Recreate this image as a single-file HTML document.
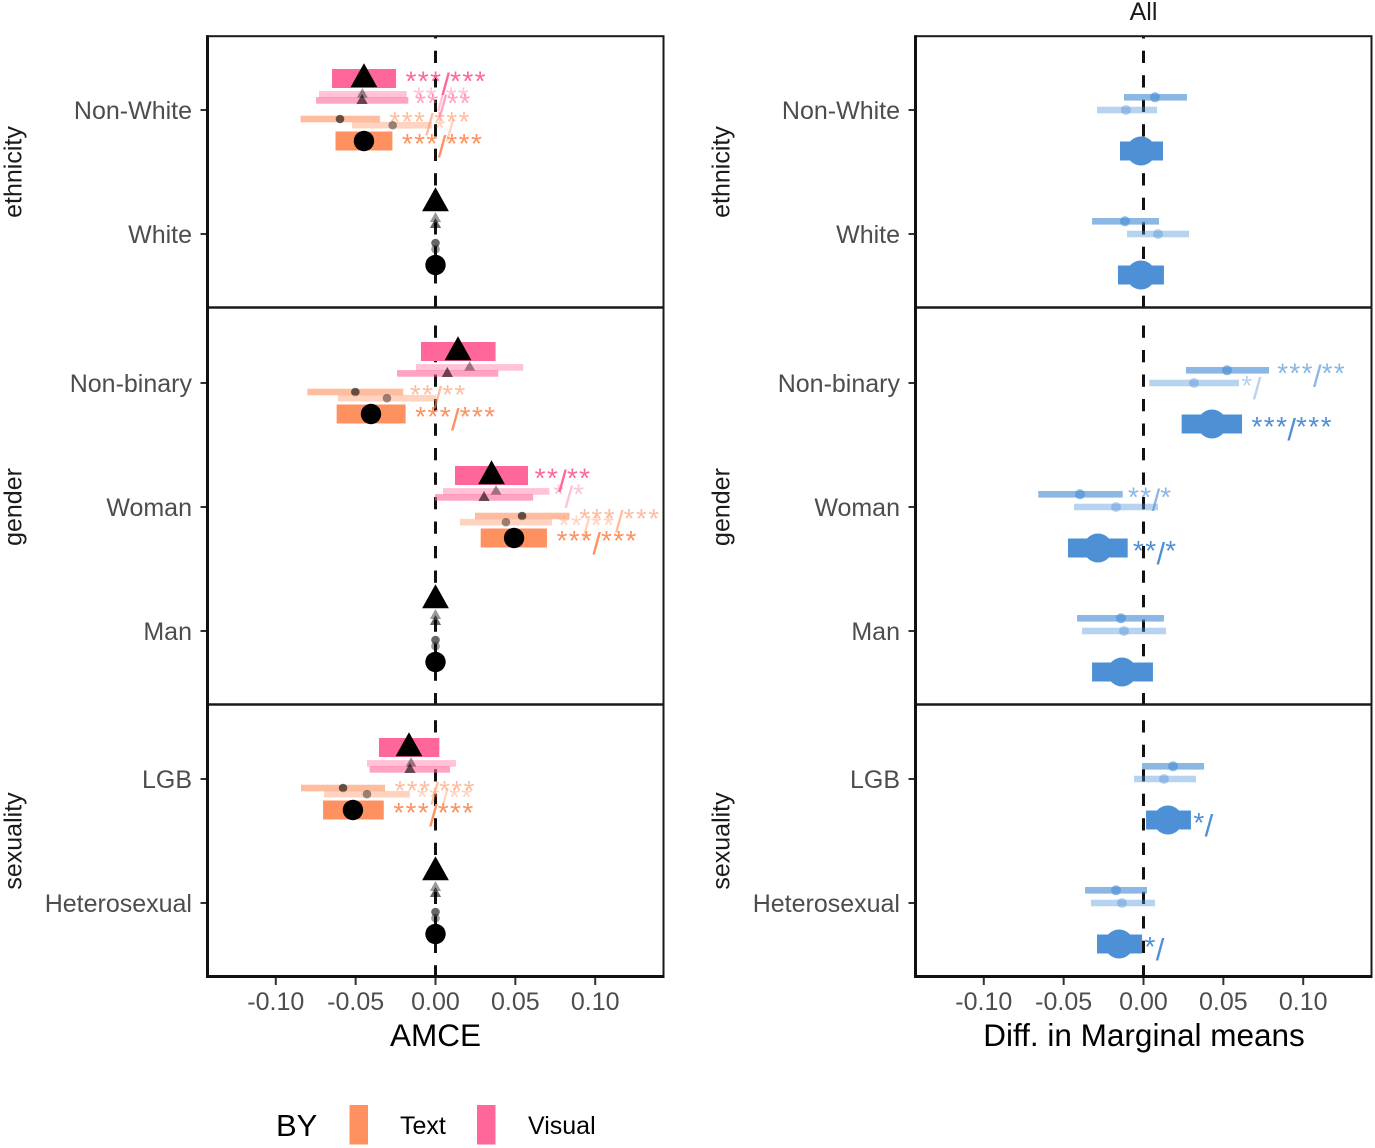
<!DOCTYPE html>
<html lang="en">
<head>
<meta charset="utf-8">
<title>AMCE and difference in marginal means</title>
<style>
html,body{margin:0;padding:0;background:#fff;}
svg{display:block;font-family:"Liberation Sans",Arial,sans-serif;}
</style>
</head>
<body>
<svg id="chart" xmlns="http://www.w3.org/2000/svg" width="1375" height="1148" viewBox="0 0 1375 1148">
  <rect x="0" y="0" width="1375" height="1148" fill="#ffffff"/>
  <g id="left-panel"></g>
  <g id="right-panel"></g>
  <text x="435.5" y="1046" font-size="31.5" text-anchor="middle" fill="#000">AMCE</text>
  <text x="1144" y="1046" font-size="31.5" text-anchor="middle" fill="#000">Diff. in Marginal means</text>
  <text x="1143.5" y="20" font-size="25" text-anchor="middle" fill="#1a1a1a">All</text>
  <g>
    <text x="276" y="1136" font-size="31" fill="#000">BY</text>
    <rect x="349.5" y="1105" width="18.5" height="39.5" fill="#FF9160"/>
    <text x="400" y="1134" font-size="25" fill="#000">Text</text>
    <rect x="477" y="1105" width="18.5" height="39.5" fill="#FF6699"/>
    <text x="528" y="1134" font-size="25" fill="#000">Visual</text>
  </g>
</svg>
<script>
// ---------- shared categories ----------
const facetNames = ['ethnicity', 'gender', 'sexuality'];
const levelNames = ['Non-White', 'White', 'Non-binary', 'Woman', 'Man', 'LGB', 'Heterosexual'];
const levelFacets = [0, 0, 1, 1, 1, 2, 2];
const xTickValues = [-0.10, -0.05, 0.00, 0.05, 0.10];
const xTickLabels = ['-0.10', '-0.05', '0.00', '0.05', '0.10'];

// ---------- AMCE panel values ----------
const visualMainEst = [-0.0448, 0, 0.0141, 0.0351, 0, -0.0166, 0];
const visualMainLo  = [-0.0648, 0, -0.0091, 0.0122, 0, -0.0354, 0];
const visualMainHi  = [-0.0247, 0, 0.0376, 0.0579, 0, 0.0024, 0];
const visualMainSig = ['***/***', '', '', '**/**', '', '', ''];

const visualAEst = [-0.0458, 0, 0.0214, 0.0379, 0, -0.0153, 0];
const visualALo  = [-0.0729, 0, -0.0122, 0.0047, 0, -0.0429, 0];
const visualAHi  = [-0.0180, 0, 0.0550, 0.0713, 0, 0.0128, 0];
const visualASig = ['**/**', '', '', '*/*', '', '', ''];

const visualBEst = [-0.0460, 0, 0.0074, 0.0304, 0, -0.0160, 0];
const visualBLo  = [-0.0748, 0, -0.0241, -0.0003, 0, -0.0413, 0];
const visualBHi  = [-0.0170, 0, 0.0393, 0.0611, 0, 0.0091, 0];
const visualBSig = ['**/**', '', '', '', '', '', ''];

const textAEst = [-0.0598, 0, -0.0502, 0.0542, 0, -0.0579, 0];
const textALo  = [-0.0845, 0, -0.0802, 0.0247, 0, -0.0842, 0];
const textAHi  = [-0.0348, 0, -0.0202, 0.0840, 0, -0.0316, 0];
const textASig = ['***/***', '', '**/**', '***/***', '', '***/***', ''];

const textBEst = [-0.0268, 0, -0.0304, 0.0441, 0, -0.0429, 0];
const textBLo  = [-0.0523, 0, -0.0612, 0.0153, 0, -0.0698, 0];
const textBHi  = [-0.0022, 0, 0.0005, 0.0729, 0, -0.0160, 0];
const textBSig = ['*/', '', '', '**/**', '', '**/**', ''];

const textMainEst = [-0.0448, 0, -0.0404, 0.0492, 0, -0.0517, 0];
const textMainLo  = [-0.0626, 0, -0.0619, 0.0283, 0, -0.0704, 0];
const textMainHi  = [-0.0270, 0, -0.0187, 0.0698, 0, -0.0324, 0];
const textMainSig = ['***/***', '', '***/***', '***/***', '', '***/***', ''];

// ---------- marginal means panel values ----------
const allAEst = [0.0072, -0.0116, 0.0523, -0.0398, -0.0141, 0.0185, -0.0172];
const allALo  = [-0.0122, -0.0322, 0.0266, -0.0659, -0.0416, -0.0009, -0.0366];
const allAHi  = [0.0272, 0.0097, 0.0786, -0.0130, 0.0128, 0.0379, 0.0022];
const allASig = ['', '', '***/**', '**/*', '', '', ''];

const allBEst = [-0.0110, 0.0091, 0.0316, -0.0172, -0.0122, 0.0128, -0.0135];
const allBLo  = [-0.0291, -0.0103, 0.0036, -0.0435, -0.0385, -0.0059, -0.0329];
const allBHi  = [0.0085, 0.0285, 0.0598, 0.0091, 0.0141, 0.0329, 0.0072];
const allBSig = ['', '', '*/', '', '', '', ''];

const allMainEst = [-0.0016, -0.0016, 0.0429, -0.0285, -0.0135, 0.0153, -0.0153];
const allMainLo  = [-0.0147, -0.0160, 0.0239, -0.0473, -0.0322, 0.0016, -0.0291];
const allMainHi  = [0.0122, 0.0128, 0.0617, -0.0099, 0.0059, 0.0297, -0.0009];
const allMainSig = ['', '', '***/***', '**/*', '', '*/', '*/'];

// ---------- layout ----------
const NS = 'http://www.w3.org/2000/svg';
const PLOT = { xScale: 1597, step: 124, tops: [37, 307.5, 704.5], bottom: 976.5,
               facetFirst: [110, 383, 779], dashStart: [26.2, 325.5, 720.2], dashCycle: 24.5 };

function mk(parent, tag, attrs, txt) {
  const e = document.createElementNS(NS, tag);
  for (const k in attrs) e.setAttribute(k, attrs[k]);
  if (txt !== undefined) e.textContent = txt;
  parent.appendChild(e);
  return e;
}
function yLevel(i) {
  const facet = levelFacets[i];
  const first = levelFacets.indexOf(facet);
  return PLOT.facetFirst[facet] + (i - first) * PLOT.step;
}

function drawFrame(g, left, right, zero) {
  const xAt = v => zero + v * PLOT.xScale;

  // zero reference line, one dashed segment per facet
  facetNames.forEach((f, idx) => {
    const top = PLOT.tops[idx];
    const bot = idx < 2 ? PLOT.tops[idx + 1] : PLOT.bottom;
    let s = PLOT.dashStart[idx];
    while (s < bot) {
      const y1 = Math.max(s, top), y2 = Math.min(s + 12.3, bot);
      if (y2 > y1) {
        const d = mk(g, 'line', { x1: zero, x2: zero, y1: y1, y2: y2, stroke: '#111', 'stroke-width': 3 });
        
        
      }
      s += PLOT.dashCycle;
    }
  });

  // x ticks
  xTickValues.forEach((v, i) => {
    const t = mk(g, 'line', { x1: xAt(v), x2: xAt(v), y1: PLOT.bottom, y2: 985, stroke: '#333', 'stroke-width': 2 });
    
    
    const l = mk(g, 'text', { x: xAt(v), y: 1010, 'font-size': 25, 'text-anchor': 'middle', fill: '#4d4d4d' }, xTickLabels[i]);
    
    
  });

  // y ticks and labels
  levelNames.forEach((name, i) => {
    const y = yLevel(i);
    const t = mk(g, 'line', { x1: left - 7, x2: left, y1: y, y2: y, stroke: '#333', 'stroke-width': 2 });
    
    
    const l = mk(g, 'text', { x: left - 15.5, y: y + 9, 'font-size': 25, 'text-anchor': 'end', fill: '#4d4d4d' }, name);
    
    
  });

  // facet strip labels
  facetNames.forEach((name, idx) => {
    const top = idx === 0 ? PLOT.tops[0] : PLOT.facetFirst[idx] - 73;
    const lastIdx = levelFacets.lastIndexOf(idx);
    const cy = (top + yLevel(lastIdx) + 73) / 2;
    const sx = left - 186;
    const s = mk(g, 'text', { x: sx, y: cy, 'font-size': 25, 'text-anchor': 'middle', fill: '#1a1a1a',
                              transform: 'rotate(-90 ' + sx + ' ' + cy + ')' }, name);
    
    
  });
}

function drawBorders(g, left, right) {
  const frame = mk(g, 'rect', { x: left, y: 36.2, width: right - left, height: PLOT.bottom - 36.2, fill: 'none', stroke: '#1a1a1a', 'stroke-width': 2 });
  
  
  [PLOT.tops[1], PLOT.tops[2]].forEach(y => {
    const d = mk(g, 'line', { x1: left, x2: right, y1: y, y2: y, stroke: '#1a1a1a', 'stroke-width': 2.4 });
    
    
  });
  const ya = mk(g, 'line', { x1: left, x2: left, y1: 35.2, y2: PLOT.bottom + 1.5, stroke: '#111', 'stroke-width': 3 });
  
  
  const xa = mk(g, 'line', { x1: left, x2: right + 1, y1: PLOT.bottom, y2: PLOT.bottom, stroke: '#111', 'stroke-width': 3 });
  
  
}

function drawSeries(g, zero, s) {
  const xAt = v => zero + v * PLOT.xScale;
  levelNames.forEach((_, i) => {
    const y = yLevel(i) + s.offset;
    const px = xAt(s.est[i]);

    // confidence bar
    if (s.hi[i] > s.lo[i]) {
      const b = mk(g, 'rect', { x: xAt(s.lo[i]), y: y - s.barH / 2, width: xAt(s.hi[i]) - xAt(s.lo[i]), height: s.barH, fill: s.color, 'fill-opacity': s.alpha });
      
      
    }

    // point estimate
    if (s.shape === 'tri') {
      const k = s.size;
      const pts = [[px, y - 15.3 * k], [px - 13.4 * k, y + 8.7 * k], [px + 13.4 * k, y + 8.7 * k]].map(p => p.join(',')).join(' ');
      const t = mk(g, 'polygon', { points: pts, fill: s.pointColor, 'fill-opacity': s.pointAlpha });
      
      
    } else {
      const c = mk(g, 'circle', { cx: px, cy: y, r: s.size, fill: s.pointColor, 'fill-opacity': s.pointAlpha });
      
      
    }

    // significance stars: spaced asterisks with a tall slash
    if (s.sig[i]) {
      const t = mk(g, 'text', { x: xAt(s.hi[i]), y: y + 16, 'font-size': 31, fill: s.color, 'fill-opacity': s.alpha });
      
      
      s.sig[i].split(/(\/)/).forEach(part => {
        if (!part) return;
        if (part === '/') mk(t, 'tspan', { y: y + 16, dx: -1, 'font-size': 31 }, part);
        else mk(t, 'tspan', { y: y + 12.2, 'font-size': 28, 'letter-spacing': 1.4 }, part);
      });
      const len = t.getComputedTextLength();
      t.setAttribute('x', xAt(s.hi[i]) + 0.115 * len);
    }
  });
}

const orange = '#FF9160', pink = '#FF6699', blue = '#4D90D6';
const leftSeries = [
  { est: visualMainEst, lo: visualMainLo, hi: visualMainHi, sig: visualMainSig, offset: -31.5, barH: 19, color: pink, alpha: 1, shape: 'tri', size: 1, pointColor: '#000', pointAlpha: 1 },
  { est: visualAEst, lo: visualALo, hi: visualAHi, sig: visualASig, offset: -15.6, barH: 6.6, color: pink, alpha: 0.4, shape: 'tri', size: 0.42, pointColor: '#000', pointAlpha: 0.4 },
  { est: visualBEst, lo: visualBLo, hi: visualBHi, sig: visualBSig, offset: -9.6, barH: 6.6, color: pink, alpha: 0.6, shape: 'tri', size: 0.42, pointColor: '#000', pointAlpha: 0.6 },
  { est: textAEst, lo: textALo, hi: textAHi, sig: textASig, offset: 9, barH: 6.6, color: orange, alpha: 0.6, shape: 'dot', size: 4.3, pointColor: '#000', pointAlpha: 0.6 },
  { est: textBEst, lo: textBLo, hi: textBHi, sig: textBSig, offset: 15.2, barH: 6.6, color: orange, alpha: 0.4, shape: 'dot', size: 4.3, pointColor: '#000', pointAlpha: 0.4 },
  { est: textMainEst, lo: textMainLo, hi: textMainHi, sig: textMainSig, offset: 31, barH: 19, color: orange, alpha: 1, shape: 'dot', size: 10.2, pointColor: '#000', pointAlpha: 1 }
];
const rightSeries = [
  { est: allAEst, lo: allALo, hi: allAHi, sig: allASig, offset: -12.7, barH: 6.6, color: blue, alpha: 0.65, shape: 'dot', size: 5, pointColor: blue, pointAlpha: 0.65 },
  { est: allBEst, lo: allBLo, hi: allBHi, sig: allBSig, offset: 0, barH: 6.6, color: blue, alpha: 0.4, shape: 'dot', size: 5, pointColor: blue, pointAlpha: 0.4 },
  { est: allMainEst, lo: allMainLo, hi: allMainHi, sig: allMainSig, offset: 41, barH: 19, color: blue, alpha: 1, shape: 'dot', size: 14.5, pointColor: blue, pointAlpha: 1 }
];

const gl = document.getElementById('left-panel');
const gr = document.getElementById('right-panel');
drawFrame(gl, 207.5, 663.5, 435.5);
drawFrame(gr, 915.5, 1371.5, 1143.5);
leftSeries.forEach(s => drawSeries(gl, 435.5, s));
rightSeries.forEach(s => drawSeries(gr, 1143.5, s));
drawBorders(gl, 207.5, 663.5);
drawBorders(gr, 915.5, 1371.5);
</script>
</body>
</html>
